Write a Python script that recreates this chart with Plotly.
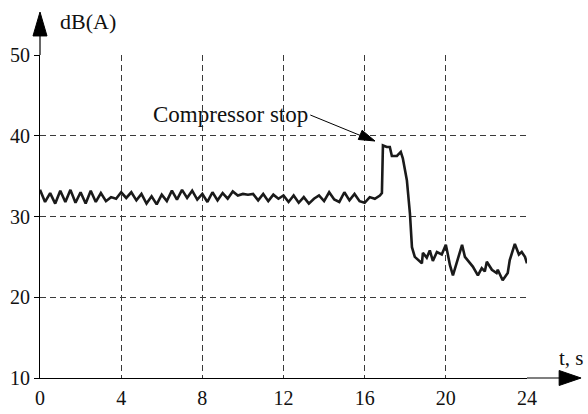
import plotly.graph_objects as go

# ---- data ----
t_values = [
    0.00, 0.25, 0.50, 0.75, 1.00, 1.25, 1.50, 1.75, 2.00, 2.25, 2.50, 2.75,
    3.00, 3.25, 3.50, 3.75, 4.00, 4.25, 4.50, 4.75, 5.00, 5.25, 5.50, 5.75,
    6.00, 6.25, 6.50, 6.75, 7.00, 7.25, 7.50, 7.75, 8.00, 8.25, 8.50, 8.75,
    9.00, 9.25, 9.50, 9.75, 10.00, 10.25, 10.50, 10.75, 11.00, 11.25, 11.50, 11.75,
    12.00, 12.25, 12.50, 12.75, 13.00, 13.25, 13.50, 13.75, 14.00, 14.25, 14.50, 14.75,
    15.00, 15.25, 15.50, 15.75, 16.00, 16.25, 16.50, 16.75,
    16.85, 16.90, 17.09, 17.24, 17.34, 17.59, 17.78, 17.88, 18.08, 18.23, 18.33, 18.47,
    18.82, 18.87, 19.06, 19.21, 19.36, 19.56, 19.80, 20.00, 20.10, 20.20, 20.35, 20.60,
    20.80, 20.94, 21.18, 21.33, 21.58, 21.77, 21.92, 22.02, 22.27, 22.50, 22.56, 22.80,
    23.05, 23.15, 23.40, 23.60, 23.74, 23.90, 24.00,
]
db_values = [
    33.3, 31.8, 32.9, 31.6, 33.2, 31.8, 33.3, 31.7, 33.0, 31.6, 33.2, 31.8,
    32.9, 31.9, 32.4, 32.2, 33.0, 32.3, 33.0, 32.0, 32.8, 31.6, 32.5, 31.5,
    32.7, 31.9, 33.2, 32.1, 33.3, 32.3, 33.2, 32.1, 32.8, 31.8, 33.0, 32.0,
    32.9, 32.2, 33.1, 32.6, 32.8, 32.7, 32.8, 32.0, 32.8, 31.9, 32.7, 32.2,
    32.6, 31.8, 32.6, 31.7, 32.4, 31.6, 32.2, 32.6, 31.9, 33.0, 32.1, 31.8,
    33.0, 32.0, 32.8, 31.9, 31.7, 32.4, 32.2, 32.6,
    32.9, 38.8, 38.6, 38.6, 37.5, 37.5, 38.0, 37.2, 34.5, 30.4, 26.2, 25.0,
    24.2, 25.5, 24.9, 25.8, 24.5, 25.6, 25.3, 26.5, 25.3, 24.0, 22.7, 24.7,
    26.5, 25.0, 24.2, 23.8, 22.7, 23.6, 23.2, 24.4, 23.4, 23.0, 23.4, 22.1,
    23.0, 24.6, 26.6, 25.3, 25.6, 25.0, 24.2,
]
x_ticks = [0, 4, 8, 12, 16, 20, 24]
y_ticks = [10, 20, 30, 40, 50]
annot_point = (16.5, 39.3)

FONT = "Liberation Serif, Times New Roman, serif"

fig = go.Figure()
fig.add_trace(go.Scatter(
    x=t_values, y=db_values, mode="lines",
    line=dict(color="#1a1a1a", width=2.6),
    hoverinfo="skip", showlegend=False,
))

axis_common = dict(
    showgrid=True, gridcolor="#3a3a3a", gridwidth=1, griddash="6px,4px",
    zeroline=False, showline=True, linecolor="black", linewidth=1.2,
    automargin=False,
    tickfont=dict(family=FONT, size=20, color="#111111"),
)

fig.update_layout(
    width=588, height=414,
    margin=dict(l=40, r=61, t=55, b=36),
    paper_bgcolor="white", plot_bgcolor="white",
    xaxis=dict(range=[0, 24], tickvals=x_ticks, ticks="outside", ticklen=2,
               tickcolor="rgba(0,0,0,0)", **axis_common),
    yaxis=dict(range=[10, 50], tickvals=y_ticks, ticks="outside", ticklen=5,
               tickcolor="black", **axis_common),
    shapes=[
        # y axis extension + arrow head
        dict(type="line", xref="paper", yref="paper", x0=0, x1=0, y0=1.0, y1=1.06,
             line=dict(color="black", width=1.2)),
        dict(type="path", xref="paper", yref="paper",
             path="M -0.0144,1.059 L 0,1.133 L 0.0144,1.059 Z",
             fillcolor="black", line=dict(color="black", width=1)),
        # x axis extension + arrow head
        dict(type="line", xref="paper", yref="paper", x0=1.0, x1=1.067, y0=0, y1=0,
             line=dict(color="black", width=1.2)),
        dict(type="path", xref="paper", yref="paper",
             path="M 1.066,0.0232 L 1.111,0 L 1.066,-0.0232 Z",
             fillcolor="black", line=dict(color="black", width=1)),
        # annotation arrow head
        dict(type="path", xref="paper", yref="paper",
             path="M 0.6536,0.7384 L 0.6879,0.7337 L 0.6614,0.7669 Z",
             fillcolor="black", line=dict(color="black", width=1)),
    ],
    annotations=[
        dict(text="dB(A)", xref="paper", yref="paper", x=0.036, y=1.105,
             xanchor="left", yanchor="middle", showarrow=False,
             font=dict(family=FONT, size=22, color="#111111")),
        dict(text="t, s", xref="paper", yref="paper", x=1.091, y=0.062,
             xanchor="center", yanchor="middle", showarrow=False,
             font=dict(family=FONT, size=21, color="#111111")),
        dict(text="Compressor stop", xref="paper", yref="paper",
             x=(230 - 40) / 487, y=(378 - 114) / 323,
             xanchor="center", yanchor="middle", showarrow=False,
             font=dict(family=FONT, size=23, color="#111111")),
        dict(text="", x=annot_point[0], y=annot_point[1], xref="x", yref="y",
             showarrow=True, ax=-66, ay=-27, arrowhead=0,
             arrowwidth=1, arrowcolor="black", standoff=4, startstandoff=0),
    ],
)

fig.write_html("out.html")
